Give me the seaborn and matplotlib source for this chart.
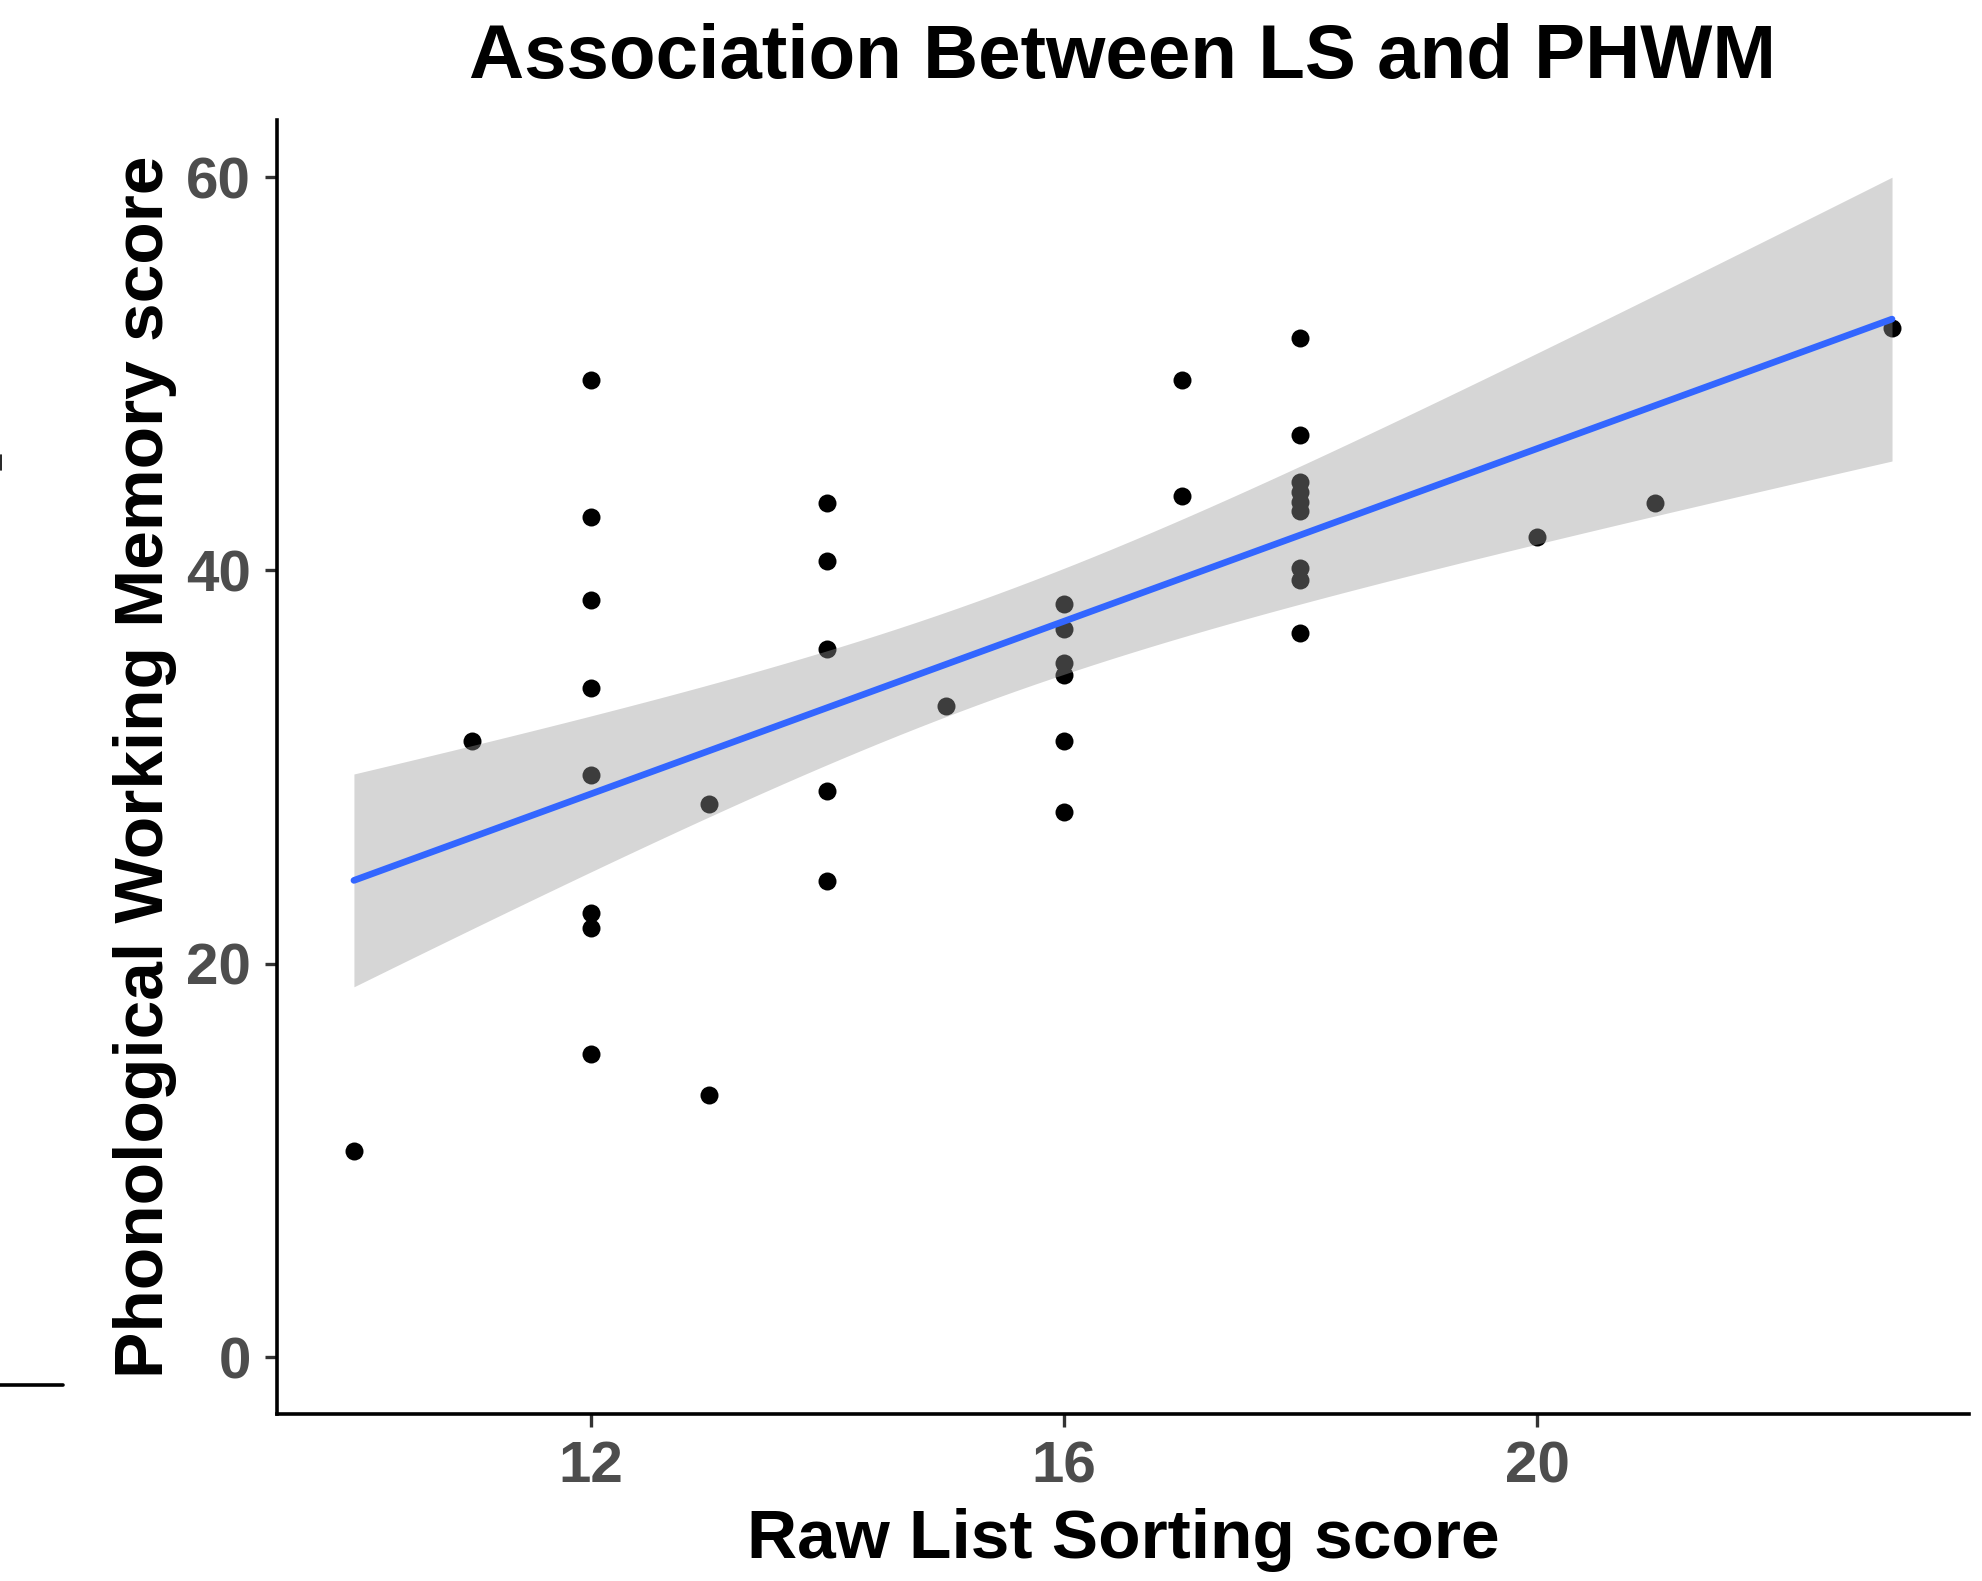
import numpy as np
import pandas as pd
import matplotlib
matplotlib.use("Agg")
import matplotlib.pyplot as plt
import seaborn as sns
from matplotlib.lines import Line2D

# ---- data ----
ls_score = [10, 11,
            12, 12, 12, 12, 12, 12, 12, 12,
            13, 13,
            14, 14, 14, 14, 14,
            15,
            16, 16, 16, 16, 16, 16,
            17, 17,
            18, 18, 18, 18, 18, 18, 18, 18, 18,
            20, 21, 23]
phwm_score = [10.5, 31.3,
              49.7, 42.7, 38.5, 34.0, 29.6, 22.6, 21.8, 15.4,
              28.1, 13.3,
              43.4, 40.5, 36.0, 28.8, 24.2,
              33.1,
              38.3, 37.0, 35.3, 34.7, 31.3, 27.7,
              49.7, 43.8,
              51.8, 46.9, 44.5, 44.0, 43.5, 43.0, 40.1, 39.5, 36.8,
              41.7, 43.4, 52.3]
x_ticks = [12, 16, 20]
y_ticks = [0, 20, 40, 60]

title = "Association Between LS and PHWM"
x_label = "Raw List Sorting score"
y_label = "Phonological Working Memory score"

df = pd.DataFrame({"ls": ls_score, "phwm": phwm_score})

sns.set_theme(style="ticks")
plt.rcParams["font.family"] = ["Liberation Sans", "DejaVu Sans"]

fig = plt.figure(figsize=(1983 / 200, 1581 / 200), dpi=200)
ax = fig.add_axes([0.1397, 0.1056, 0.9929 - 0.1397, 0.9241 - 0.1056])

# points first (ribbon is drawn over them, as in ggplot)
sns.scatterplot(data=df, x="ls", y="phwm", ax=ax, color="black",
                s=42, linewidth=0, zorder=2)

# linear fit with analytic 95% confidence band
x = np.asarray(ls_score, float)
y = np.asarray(phwm_score, float)
n = len(x)
b1, b0 = np.polyfit(x, y, 1)
resid = y - (b0 + b1 * x)
s = np.sqrt(np.sum(resid ** 2) / (n - 2))
sxx = np.sum((x - x.mean()) ** 2)
grid = np.linspace(x.min(), x.max(), 80)
fit = b0 + b1 * grid
se = s * np.sqrt(1.0 / n + (grid - x.mean()) ** 2 / sxx)
t_crit = 2.028  # t(0.975, df=36)
ax.fill_between(grid, fit - t_crit * se, fit + t_crit * se,
                color="#999999", alpha=0.4, linewidth=0, zorder=3)
sns.regplot(data=df, x="ls", y="phwm", ax=ax, scatter=False, ci=None,
            truncate=True, line_kws=dict(color="#3366FF", lw=2.4, zorder=4))

ax.set_xlim(9.35, 23.65)
ax.set_ylim(-2.9, 62.9)
ax.set_xticks(x_ticks)
ax.set_yticks(y_ticks)

for side in ["top", "right"]:
    ax.spines[side].set_visible(False)
for side in ["left", "bottom"]:
    ax.spines[side].set_color("black")
    ax.spines[side].set_linewidth(1.3)

ax.tick_params(axis="both", direction="out", length=4.5, width=1.2,
               color="#333333", labelcolor="#4D4D4D", labelsize=21, pad=5)
for lab in ax.get_xticklabels() + ax.get_yticklabels():
    lab.set_fontweight("bold")

ax.set_xlabel(x_label, fontsize=25, fontweight="bold", color="black", labelpad=5)
ax.set_ylabel(y_label, fontsize=25, fontweight="bold", color="black", labelpad=3)
ax.set_title(title, fontsize=27.5, fontweight="bold", color="black", pad=15)

# cropped fragments of a neighbouring panel at the left edge
fig.add_artist(Line2D([0, 63 / 1983], [1 - 1385 / 1581, 1 - 1385 / 1581],
                      transform=fig.transFigure, color="black", lw=1.3))
fig.add_artist(Line2D([0.5 / 1983, 0.5 / 1983], [1 - 455 / 1581, 1 - 470 / 1581],
                      transform=fig.transFigure, color="black", lw=0.6))

fig.savefig("out.png", dpi=200, facecolor="white")
